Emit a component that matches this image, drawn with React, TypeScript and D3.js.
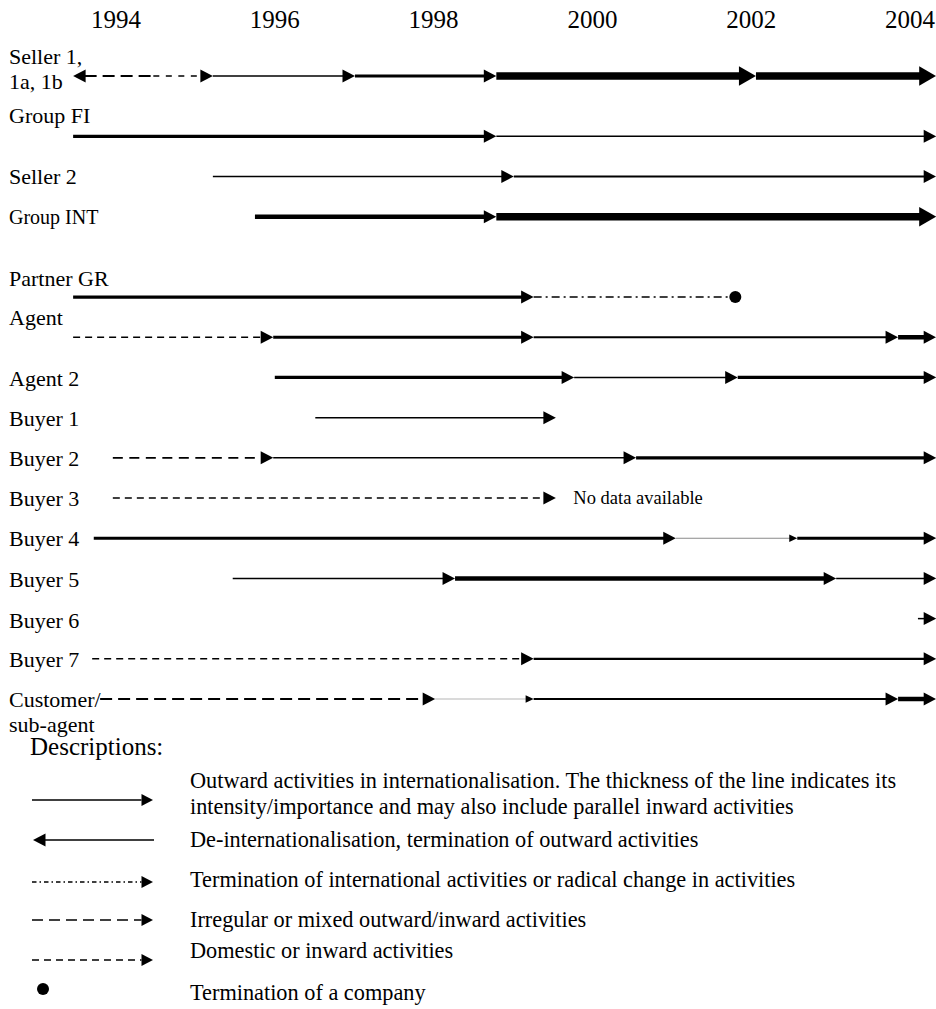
import React from "react";
import * as d3 from "d3";

// ---------- data ----------
const TICK_YEARS = [1994, 1996, 1998, 2000, 2002, 2004];

const ROW_NAMES = [
  "Seller 1",
  "Group FI",
  "Seller 2",
  "Group INT",
  "Partner GR",
  "Agent",
  "Agent 2",
  "Buyer 1",
  "Buyer 2",
  "Buyer 3",
  "Buyer 4",
  "Buyer 5",
  "Buyer 6",
  "Buyer 7",
  "Customer",
];

const ROW_LABELS = [
  ["Seller 1,", "1a, 1b"],
  ["Group FI"],
  ["Seller 2"],
  ["Group INT"],
  ["Partner GR"],
  ["Agent"],
  ["Agent 2"],
  ["Buyer 1"],
  ["Buyer 2"],
  ["Buyer 3"],
  ["Buyer 4"],
  ["Buyer 5"],
  ["Buyer 6"],
  ["Buyer 7"],
  ["Customer/", "sub-agent"],
];

// segments: [row, fromYear, toYear, kind, head]
const SEGMENTS: [string, number, number, string, string][] = [
  ["Seller 1", 1993.46, 1994.47, "dashLong", "start"],
  ["Seller 1", 1994.47, 1995.22, "dashTiny", "end"],
  ["Seller 1", 1995.22, 1997.01, "thin", "end"],
  ["Seller 1", 1997.01, 1998.79, "medium", "end"],
  ["Seller 1", 1998.79, 2002.06, "heavy", "end"],
  ["Seller 1", 2002.06, 2004.33, "heavy", "end"],

  ["Group FI", 1993.46, 1998.79, "medium", "end"],
  ["Group FI", 1998.79, 2004.33, "thin", "end"],

  ["Seller 2", 1995.22, 1999.01, "thin", "end"],
  ["Seller 2", 1999.01, 2004.33, "line2", "end"],

  ["Group INT", 1995.75, 1998.79, "bold", "end"],
  ["Group INT", 1998.79, 2004.33, "heavy", "end"],

  ["Partner GR", 1993.46, 1999.26, "medium", "end"],
  ["Partner GR", 1999.26, 2001.74, "dashDot", "none"],

  ["Agent", 1993.46, 1995.98, "dashShort", "end"],
  ["Agent", 1995.98, 1999.26, "medium", "end"],
  ["Agent", 1999.26, 2003.85, "line2", "end"],
  ["Agent", 2003.85, 2004.33, "bold", "end"],

  ["Agent 2", 1996.0, 1999.77, "medium", "end"],
  ["Agent 2", 1999.77, 2001.83, "thin", "end"],
  ["Agent 2", 2001.83, 2004.33, "medium", "end"],

  ["Buyer 1", 1996.51, 1999.54, "thin", "end"],

  ["Buyer 2", 1993.96, 1995.98, "dashMid", "end"],
  ["Buyer 2", 1995.98, 2000.55, "thin", "end"],
  ["Buyer 2", 2000.55, 2004.33, "medium", "end"],

  ["Buyer 3", 1993.96, 1999.54, "dashShort", "end"],

  ["Buyer 4", 1993.72, 2001.05, "medium", "end"],
  ["Buyer 4", 2001.05, 2002.58, "grey", "small"],
  ["Buyer 4", 2002.58, 2004.33, "medium", "end"],

  ["Buyer 5", 1995.47, 1998.27, "thin", "end"],
  ["Buyer 5", 1998.27, 2003.07, "bold", "end"],
  ["Buyer 5", 2003.07, 2004.33, "thin", "end"],

  ["Buyer 6", 2004.1, 2004.33, "thin", "end"],

  ["Buyer 7", 1993.7, 1999.26, "dashShort", "end"],
  ["Buyer 7", 1999.26, 2004.33, "line2", "end"],

  ["Customer", 1993.8, 1998.02, "dashLong", "end"],
  ["Customer", 1998.02, 1999.26, "lightgrey", "small"],
  ["Customer", 1999.26, 2003.85, "line2", "end"],
  ["Customer", 2003.85, 2004.33, "bold", "end"],
];

// company termination points: [row, year]
const TERMINATIONS: [string, number][] = [["Partner GR", 2001.8]];

// annotations: [row, year, text]
const NOTES: [string, number, string][] = [["Buyer 3", 1999.76, "No data available"]];

const LEGEND_KINDS = ["thinEnd", "thinStart", "dashDot", "dashMid", "dashShort", "dot"];
const LEGEND_TEXTS = [
  [
    "Outward activities in internationalisation. The thickness of the line indicates its",
    "intensity/importance and may also include parallel inward activities",
  ],
  ["De-internationalisation, termination of outward activities"],
  ["Termination of international activities or radical change in activities"],
  ["Irregular or mixed outward/inward activities"],
  ["Domestic or inward activities"],
  ["Termination of a company"],
];

// ---------- styles / layout ----------
const FONT = "'Liberation Serif', 'Times New Roman', Times, serif";

const KIND_STYLE: Record<string, { w: number; dash?: string; color?: string; head: "n" | "h" | "s" }> = {
  thin: { w: 1.5, head: "n" },
  line2: { w: 2.2, head: "n" },
  medium: { w: 3.2, head: "n" },
  bold: { w: 4.5, head: "n" },
  heavy: { w: 7.5, head: "h" },
  grey: { w: 1.2, color: "#8a8a8a", head: "s" },
  lightgrey: { w: 1.2, color: "#b5b5b5", head: "s" },
  dashLong: { w: 2, dash: "12,6", head: "n" },
  dashMid: { w: 1.6, dash: "10,6.5", head: "n" },
  dashShort: { w: 1.6, dash: "7,5", head: "n" },
  dashTiny: { w: 1.6, dash: "6,6.5", head: "n" },
  dashDot: { w: 1.4, dash: "8,4,2,4", head: "n" },
};

const HEADS = {
  n: { len: 12.5, half: 6.5 },
  h: { len: 17, half: 9.8 },
  s: { len: 8, half: 3.8 },
};

const ROW_SLOTS = [0, 1.5, 2.5, 3.5, 5.5, 6.5, 7.5, 8.5, 9.5, 10.5, 11.5, 12.5, 13.5, 14.5, 15.5];
// baseline offset of first label line relative to row line
const LABEL_DY = [-12, -13, 8, 7, -11, -12, 9, 8, 8, 8, 8, 9, 9, 8, 8];
const LABEL_SIZE = [22, 22, 22, 20, 22, 22, 22, 22, 22, 22, 22, 22, 22, 22, 22];

const W = 936;
const H = 1009;

export default function App() {
  const x = d3.scaleLinear().domain([1994, 2004]).range([116, 910]);
  const slotY = d3.scaleLinear().domain([0, 15.5]).range([76, 699]);
  const rowY = (name: string) => slotY(ROW_SLOTS[ROW_NAMES.indexOf(name)]);

  const arrowHead = (tipX: number, y: number, dir: 1 | -1, len: number, half: number, key: string) => (
    <polygon
      key={key}
      points={`${tipX},${y} ${tipX - dir * len},${y - half} ${tipX - dir * len},${y + half}`}
      fill="#000"
    />
  );

  const segEls: React.ReactNode[] = [];
  SEGMENTS.forEach(([row, from, to, kind, head], i) => {
    const st = KIND_STYLE[kind];
    const hd = HEADS[st.head];
    const y = rowY(row);
    let x1 = x(from);
    let x2 = x(to);
    const tipEnd = x2;
    const tipStart = x1;
    if (head === "end" || head === "small") x2 -= hd.len - 1;
    if (head === "start") x1 += hd.len - 1;
    segEls.push(
      <line
        key={`l${i}`}
        x1={x1}
        x2={x2}
        y1={y}
        y2={y}
        stroke={st.color || "#000"}
        strokeWidth={st.w}
        strokeDasharray={st.dash}
      />
    );
    if (head === "end" || head === "small") segEls.push(arrowHead(tipEnd, y, 1, hd.len, hd.half, `h${i}`));
    if (head === "start") segEls.push(arrowHead(tipStart, y, -1, hd.len, hd.half, `h${i}`));
  });

  const legendLineY = [800, 840, 882, 920, 960, 989];
  const legendTextY = [788, 847, 887, 927, 958, 1000];
  const lx1 = 33;
  const lx2 = 154;

  const legendEls = LEGEND_KINDS.map((k, i) => {
    const y = legendLineY[i];
    const hd = HEADS.n;
    if (k === "dot") return <circle key={k} cx={43} cy={y} r={6} fill="#000" />;
    if (k === "thinStart")
      return (
        <g key={k}>
          <line x1={lx1 + hd.len - 1} x2={lx2} y1={y} y2={y} stroke="#000" strokeWidth={1.5} />
          {arrowHead(lx1, y, -1, hd.len, hd.half, "a")}
        </g>
      );
    const st =
      k === "thinEnd"
        ? KIND_STYLE.thin
        : k === "dashDot"
        ? { w: 1.4, dash: "4.5,3,1.5,3" }
        : k === "dashMid"
        ? { w: 1.5, dash: "11,6" }
        : { w: 1.5, dash: "7,5" };
    return (
      <g key={k}>
        <line
          x1={lx1 - 1}
          x2={lx2 - hd.len}
          y1={y}
          y2={y}
          stroke="#000"
          strokeWidth={st.w}
          strokeDasharray={(st as any).dash}
        />
        {arrowHead(lx2 - 1, y, 1, hd.len - 1, hd.half - 0.5, "a")}
      </g>
    );
  });

  return (
    <svg
      width={W}
      height={H}
      style={{ position: "absolute", left: 0, top: 0, background: "#fff" }}
      fontFamily={FONT}
    >
      <rect width={W} height={H} fill="#fff" />
      {TICK_YEARS.map((yr) => (
        <text key={yr} x={x(yr)} y={28} fontSize={25} textAnchor="middle" fill="#000">
          {yr}
        </text>
      ))}

      {ROW_NAMES.map((name, i) => (
        <text key={name} x={9} y={rowY(name) + LABEL_DY[i]} fontSize={LABEL_SIZE[i]} fill="#000">
          {ROW_LABELS[i].map((ln, j) => (
            <tspan key={j} x={9} dy={j === 0 ? 0 : 25}>
              {ln}
            </tspan>
          ))}
        </text>
      ))}

      {segEls}

      {TERMINATIONS.map(([row, yr]) => (
        <circle key={row} cx={x(yr)} cy={rowY(row)} r={6} fill="#000" />
      ))}

      {NOTES.map(([row, yr, t]) => (
        <text key={row} x={x(yr)} y={rowY(row) + 6} fontSize={18.5} fill="#000">
          {t}
        </text>
      ))}

      <text x={30} y={755} fontSize={25} fill="#000">
        Descriptions:
      </text>
      {legendEls}
      {LEGEND_TEXTS.map((lines, i) => (
        <text key={i} x={190} y={legendTextY[i]} fontSize={22.3} fill="#000">
          {lines.map((ln, j) => (
            <tspan key={j} x={190} dy={j === 0 ? 0 : 26}>
              {ln}
            </tspan>
          ))}
        </text>
      ))}
    </svg>
  );
}
